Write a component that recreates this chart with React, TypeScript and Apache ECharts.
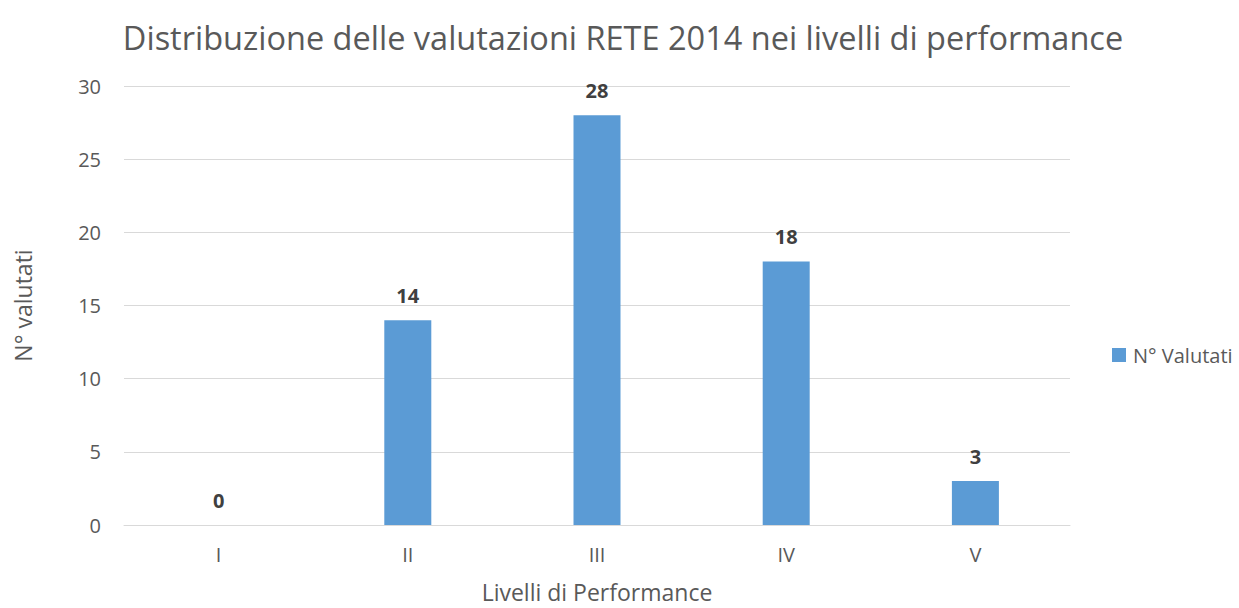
import React, { useEffect, useRef } from "react";
import * as echarts from "echarts";

const categories = ["I", "II", "III", "IV", "V"];
const values = [0, 14, 28, 18, 3];
const seriesName = "N° Valutati";
const titleText = "Distribuzione delle valutazioni RETE 2014 nei livelli di performance";
const xAxisName = "Livelli di Performance";
const yAxisName = "N° valutati";

export default function App() {
  const ref = useRef<HTMLDivElement>(null);
  useEffect(() => {
    if (!ref.current) return;
    const chart = echarts.init(ref.current, undefined, { renderer: "svg" });
    const font = "'Open Sans', 'Noto Sans', sans-serif";
    chart.setOption({
      animation: false,
      backgroundColor: "#ffffff",
      textStyle: { fontFamily: font },
      title: {
        text: titleText,
        left: 618,
        textAlign: "center",
        top: 16,
        textStyle: { fontFamily: font, fontSize: 32.5, fontWeight: "normal", color: "#595959" },
      },
      legend: {
        data: [seriesName],
        left: 1112,
        top: 345,
        padding: 0,
        itemWidth: 14,
        itemHeight: 14,
        icon: "rect",
        textStyle: { fontFamily: font, fontSize: 20, color: "#595959", padding: [0, 0, 0, 2] },
      },
      grid: { left: 124, right: 169, top: 86, bottom: 78 },
      xAxis: {
        type: "category",
        data: categories,
        name: xAxisName,
        nameLocation: "middle",
        nameGap: 55,
        nameTextStyle: { fontFamily: font, fontSize: 23, color: "#595959" },
        axisLine: { show: true, lineStyle: { color: "#d9d9d9", width: 1 } },
        axisTick: { show: false },
        axisLabel: { fontFamily: font, fontSize: 20, color: "#595959", margin: 19 },
      },
      yAxis: {
        type: "value",
        min: 0,
        max: 30,
        interval: 5,
        name: yAxisName,
        nameLocation: "middle",
        nameGap: 90,
        nameTextStyle: { fontFamily: font, fontSize: 23, color: "#595959" },
        axisLine: { show: false },
        axisTick: { show: false },
        axisLabel: { fontFamily: font, fontSize: 20, color: "#595959", margin: 23 },
        splitLine: { lineStyle: { color: "#d9d9d9", width: 1 } },
      },
      series: [
        {
          name: seriesName,
          type: "bar",
          data: values,
          barWidth: 47,
          itemStyle: { color: "#5b9bd5" },
          label: {
            show: true,
            position: "top",
            distance: 15,
            fontFamily: font,
            fontSize: 20,
            fontWeight: "bold",
            color: "#404040",
          },
        },
      ],
    });
    return () => chart.dispose();
  }, []);
  return (
    <div
      ref={ref}
      style={{ position: "absolute", left: 0, top: 0, width: 1239, height: 608 }}
    />
  );
}
